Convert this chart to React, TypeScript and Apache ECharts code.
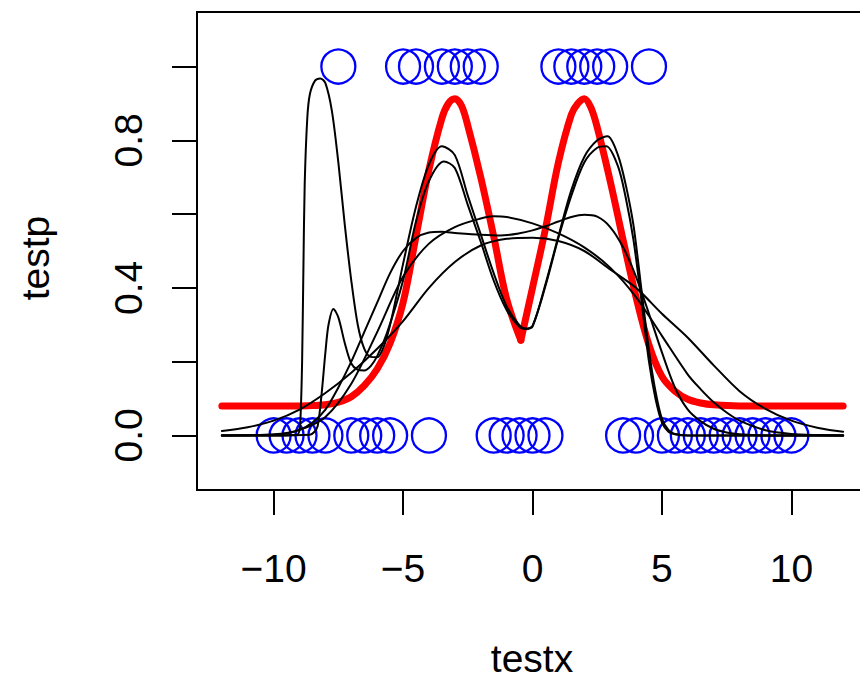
import React, { useEffect, useRef } from "react";
import * as echarts from "echarts";

// observations (testx, testy)
const testx = [
  -10, -9.5, -9, -8.5, -8, -7.5, -7, -6.5, -6, -5.5, -5, -4.5, -4, -3.5, -3, -2.5, -2,
  -1.5, -1, -0.5, 0, 0.5, 1, 1.5, 2, 2.5, 3, 3.5, 4, 4.5, 5, 5.5, 6, 6.5, 7, 7.5, 8,
  8.5, 9, 9.5, 10,
];
const testy = [
  0, 0, 0, 0, 0, 1, 0, 0, 0, 0, 1, 1, 0, 1, 1, 1, 1,
  0, 0, 0, 0, 0, 1, 1, 1, 1, 1, 0, 0, 1, 0, 0, 0, 0, 0, 0, 0,
  0, 0, 0, 0,
];

// true probability (red)
const redX = [-12, -10, -9, -8.5, -8, -7.5, -7, -6.5, -6, -5.5, -5, -4.5, -4, -3.5, -3.25, -3, -2.75, -2.5, -2, -1.5, -1, -0.45,
  0, 0.5, 1, 1.5, 1.75, 2, 2.25, 2.5, 3, 3.5, 4, 4.5, 5, 5.5, 6, 6.5, 7, 8, 10, 12];
const redY = [0.08, 0.08, 0.08, 0.081, 0.083, 0.09, 0.105, 0.135, 0.18, 0.25, 0.36, 0.54, 0.72, 0.86, 0.9, 0.913, 0.895, 0.84, 0.7, 0.54, 0.37, 0.258,
  0.4, 0.56, 0.74, 0.87, 0.9, 0.913, 0.89, 0.835, 0.69, 0.53, 0.375, 0.245, 0.16, 0.12, 0.098, 0.088, 0.083, 0.08, 0.08, 0.08];
const redCusp = -0.45;

// fitted curves (black)
const fitAX = [-12, -10, -9.1, -9.0, -8.95, -8.9, -8.85, -8.8, -8.7, -8.6, -8.4, -8.2, -8.0, -7.75, -7.5, -7.25, -7.0, -6.75, -6.5, -6.25, -6.0, -5.75, -5.5, -5.25, -5.0, -4.5, -4.0, -3.5, -3.0, -2.5, -2.0, -1.5, -1.0, -0.5, -0.25, 0, 0.5, 1.0, 1.5, 2.0, 2.5, 2.9, 3.3, 3.6, 3.9, 4.2, 4.5, 4.75, 5.0, 5.25, 5.5, 6.0, 8, 12];
const fitAY = [0, 0, 0.002, 0.015, 0.07, 0.2, 0.45, 0.68, 0.86, 0.925, 0.962, 0.968, 0.955, 0.88, 0.74, 0.57, 0.42, 0.3, 0.235, 0.213, 0.212, 0.24, 0.3, 0.38, 0.465, 0.62, 0.735, 0.784, 0.76, 0.65, 0.545, 0.44, 0.35, 0.298, 0.289, 0.295, 0.41, 0.54, 0.665, 0.755, 0.8, 0.811, 0.76, 0.68, 0.57, 0.4, 0.23, 0.12, 0.045, 0.015, 0.004, 0, 0, 0];

const fitBX = [-12, -10, -8.6, -8.45, -8.3, -8.15, -8.0, -7.88, -7.69, -7.5, -7.25, -7.0, -6.75, -6.5, -6.25, -6.0, -5.63, -5.0, -4.5, -4.0, -3.42, -3.0, -2.5, -2.0, -1.5, -1.0, -0.5, -0.25, 0, 0.5, 1.0, 1.5, 2.0, 2.5, 2.85, 3.3, 3.6, 3.9, 4.2, 4.5, 4.75, 5.0, 5.25, 5.5, 6.0, 8, 12];
const fitBY = [0, 0, 0.002, 0.008, 0.025, 0.11, 0.225, 0.3, 0.343, 0.32, 0.25, 0.195, 0.178, 0.176, 0.188, 0.215, 0.276, 0.42, 0.58, 0.69, 0.743, 0.725, 0.625, 0.525, 0.42, 0.34, 0.294, 0.289, 0.297, 0.405, 0.535, 0.65, 0.74, 0.78, 0.784, 0.73, 0.645, 0.53, 0.37, 0.2, 0.1, 0.035, 0.01, 0.003, 0, 0, 0];

const fitCX = [-12, -10, -9.5, -9, -8.5, -8, -7.5, -7, -6.5, -6, -5.5, -5, -4.5, -4, -3.5, -3, -2, -1.25, -0.5, 0, 0.5, 1, 1.5, 2, 2.5, 3, 3.5, 4, 4.5, 5, 5.5, 6, 6.5, 7, 7.5, 8, 9, 12];
const fitCY = [0, 0.001, 0.005, 0.015, 0.035, 0.07, 0.13, 0.2, 0.28, 0.36, 0.44, 0.5, 0.535, 0.55, 0.552, 0.549, 0.544, 0.542, 0.548, 0.556, 0.567, 0.58, 0.592, 0.598, 0.593, 0.565, 0.51, 0.43, 0.33, 0.225, 0.13, 0.07, 0.038, 0.018, 0.008, 0.003, 0, 0];

const fitDX = [-12, -10, -9, -8, -7, -6, -5, -4, -3, -2, -1.5, -1, 0, 1, 2, 3, 4, 5, 6, 6.5, 7, 7.5, 8, 9, 10, 11, 12];
const fitDY = [0, 0.003, 0.015, 0.05, 0.14, 0.28, 0.43, 0.52, 0.565, 0.588, 0.594, 0.592, 0.575, 0.548, 0.51, 0.455, 0.375, 0.27, 0.165, 0.125, 0.09, 0.062, 0.04, 0.014, 0.004, 0.001, 0];

const fitEX = [-12, -11, -10, -9, -8, -7, -6, -5, -4, -3, -2, -1, 0, 1, 2, 3, 4, 5, 6, 7, 8, 9, 10, 11, 12];
const fitEY = [0.012, 0.022, 0.04, 0.07, 0.115, 0.17, 0.235, 0.31, 0.4, 0.47, 0.515, 0.533, 0.536, 0.527, 0.5, 0.45, 0.4, 0.33, 0.265, 0.19, 0.12, 0.072, 0.04, 0.021, 0.01];

const xTicks = [-10, -5, 0, 5, 10];
const yTicks = [0, 0.2, 0.4, 0.6, 0.8, 1.0];
const yLabels = [0, 0.4, 0.8];

const FONT = '"Liberation Sans", Arial, Helvetica, sans-serif';

function pairs(xs: number[], ys: number[]) {
  return xs.map((x, i) => [x, ys[i]]);
}

export default function App() {
  const ref = useRef<HTMLDivElement>(null);
  useEffect(() => {
    if (!ref.current) return;
    const chart = echarts.init(ref.current, null, { renderer: "svg" });
    const cuspIdx = redX.indexOf(redCusp);
    const redAll = pairs(redX, redY);
    const redLeft = redAll.slice(0, cuspIdx + 1);
    const redRight = redAll.slice(cuspIdx);
    const blackStyle = { color: "#000", width: 2, cap: "round", join: "round" };
    const black = (xs: number[], ys: number[]) => ({
      type: "line",
      data: pairs(xs, ys),
      showSymbol: false,
      symbol: "none",
      smooth: 0.3,
      lineStyle: blackStyle,
      z: 4,
      silent: true,
    });
    const red = (d: number[][]) => ({
      type: "line",
      data: d,
      showSymbol: false,
      symbol: "none",
      smooth: 0.35,
      lineStyle: { color: "#ff0000", width: 7, cap: "round", join: "round" },
      z: 3,
      silent: true,
    });
    chart.setOption({
      animation: false,
      backgroundColor: "#fff",
      grid: {
        left: 197,
        top: 12,
        width: 671,
        height: 478,
        show: true,
        borderColor: "#000",
        borderWidth: 2,
        backgroundColor: "transparent",
      },
      xAxis: {
        type: "value",
        min: -12.96,
        max: 12.96,
        axisLine: { show: false, onZero: false },
        splitLine: { show: false },
        axisTick: {
          show: true,
          inside: false,
          length: 25,
          lineStyle: { color: "#000", width: 2 },
          customValues: xTicks,
        },
        axisLabel: {
          customValues: xTicks,
          margin: 59,
          fontSize: 39,
          fontFamily: FONT,
          color: "#000",
          formatter: (v: number) => (v < 0 ? "\u2212" + Math.abs(v) : String(v)),
        },
      },
      yAxis: {
        type: "value",
        min: -0.148,
        max: 1.148,
        axisLine: { show: false, onZero: false },
        splitLine: { show: false },
        axisTick: {
          show: true,
          inside: false,
          length: 25,
          lineStyle: { color: "#000", width: 2 },
          customValues: yTicks,
        },
        axisLabel: {
          customValues: yLabels,
          rotate: 90,
          margin: 49,
          fontSize: 39,
          fontFamily: FONT,
          color: "#000",
          formatter: (v: number) => v.toFixed(1),
        },
      },
      graphic: [
        {
          type: "text",
          x: 532,
          y: 658,
          style: {
            text: "testx",
            font: `39px ${FONT}`,
            fill: "#000",
            align: "center",
            verticalAlign: "middle",
            textAlign: "center",
            textVerticalAlign: "middle",
          },
        },
        {
          type: "text",
          x: 35,
          y: 258,
          rotation: Math.PI / 2,
          style: {
            text: "testp",
            font: `39px ${FONT}`,
            fill: "#000",
            align: "center",
            verticalAlign: "middle",
            textAlign: "center",
            textVerticalAlign: "middle",
          },
        },
      ],
      series: [
        {
          type: "scatter",
          data: pairs(testx, testy),
          symbol: "circle",
          symbolSize: 34,
          itemStyle: {
            color: "rgba(0,0,0,0)",
            borderColor: "#0000ff",
            borderWidth: 2.3,
            opacity: 1,
          },
          z: 2,
          silent: true,
        },
        red(redLeft),
        red(redRight),
        black(fitAX, fitAY),
        black(fitBX, fitBY),
        black(fitCX, fitCY),
        black(fitDX, fitDY),
        black(fitEX, fitEY),
      ],
    });
    return () => chart.dispose();
  }, []);
  return (
    <div style={{ position: "fixed", left: 0, top: 0, width: 860, height: 679, overflow: "hidden", background: "#fff" }}>
      <div ref={ref} style={{ position: "absolute", left: 0, top: 0, width: 872, height: 679 }} />
    </div>
  );
}
